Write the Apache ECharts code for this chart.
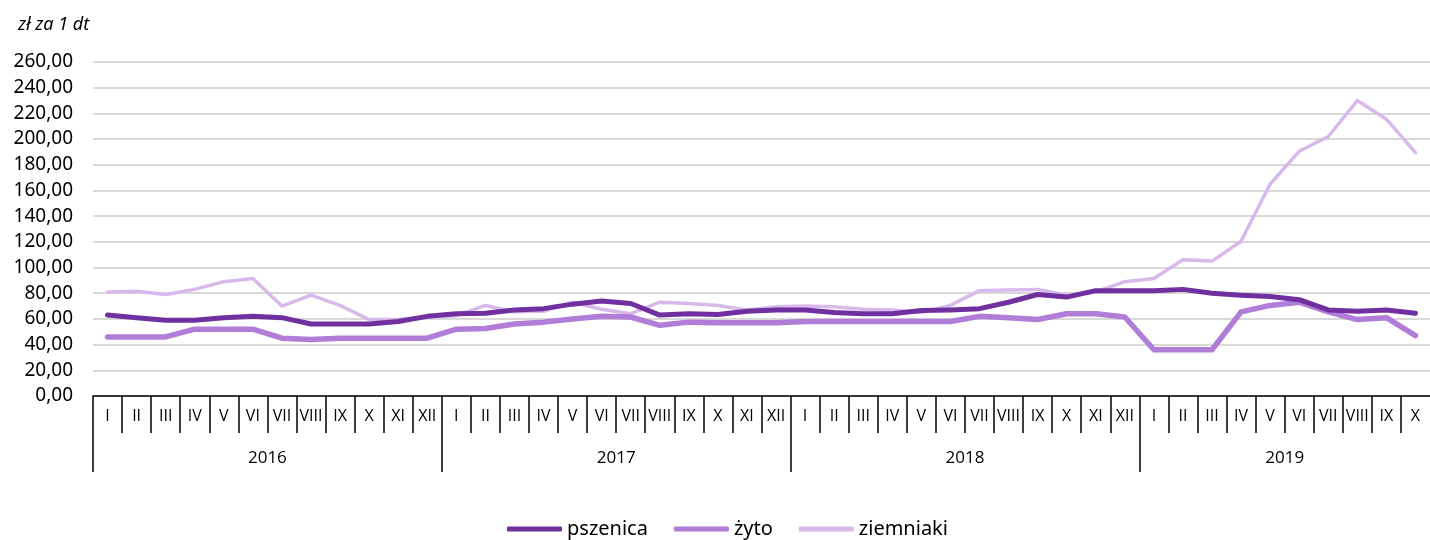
<!DOCTYPE html>
<html lang="pl">
<head>
<meta charset="utf-8">
<title>Ceny skupu</title>
<script src="https://cdn.jsdelivr.net/npm/echarts@6.0.0/dist/echarts.min.js"></script>
<style>
  html, body { margin: 0; padding: 0; background: #fff; }
  #main { width: 1430px; height: 540px; }
</style>
</head>
<body>
<div id="main"></div>
<script>
// miesiące i lata na osi X
var months = ['I', 'II', 'III', 'IV', 'V', 'VI', 'VII', 'VIII', 'IX', 'X', 'XI', 'XII'];
var years = ['2016', '2017', '2018', '2019'];
var yearMonths = [12, 12, 12, 10];
var yTicks = [0, 20, 40, 60, 80, 100, 120, 140, 160, 180, 200, 220, 240, 260];

// zł za 1 dt
var pszenica = [63, 61, 59, 59, 61, 62, 61, 56, 56, 56, 58, 62,
  64, 64.5, 67, 68, 71.5, 74, 72, 63, 64, 63.5, 66, 67,
  67, 65, 64, 64, 66.5, 67, 68, 73, 79, 77, 82, 82,
  82, 83, 80, 78.5, 77.5, 75, 67, 66, 67, 64.5];
var zyto = [46, 46, 46, 52, 52, 52, 45, 44, 45, 45, 45, 45,
  52, 52.5, 56, 57.5, 60, 62, 61.5, 55, 57.5, 57, 57, 57,
  58, 58, 58, 58, 58, 58, 62, 61, 59.5, 64, 64, 61.5,
  36, 36, 36, 65.5, 70.5, 73, 65.5, 59.5, 61, 47];
var ziemniaki = [81, 81.5, 79, 83, 89, 91.5, 70, 78.5, 70.5, 59.5, 59.5, 61.5,
  62.5, 70.5, 65.5, 66, 73, 67.5, 64, 73, 72, 70.5, 67, 69.5,
  70, 69.5, 67.5, 67, 65, 70.5, 82, 82.5, 83, 78.5, 81, 89,
  91.5, 106, 105, 120.5, 165, 190.5, 202, 230, 215.5, 189.5];

var categories = [];
var monthBounds = [];
var yearStarts = [];
var yearMids = [];
var pos = 0;
for (var y = 0; y < years.length; y++) {
  yearStarts.push(pos);
  yearMids.push(pos + yearMonths[y] / 2);
  for (var m = 0; m < yearMonths[y]; m++) {
    categories.push(months[m]);
    monthBounds.push(pos + m);
  }
  pos += yearMonths[y];
}

var font = 'Noto Sans';
var axisFont = 'Open Sans';
var chart = echarts.init(document.getElementById('main'));

chart.setOption({
  animation: false,
  textStyle: { fontFamily: font },
  title: {
    text: 'zł za 1 dt',
    left: 13,
    top: 11,
    textStyle: { fontFamily: font, fontSize: 18, fontStyle: 'italic', fontWeight: 'normal', color: '#000' }
  },
  grid: { left: 93, right: 0, top: 62, bottom: 144 },
  legend: {
    top: 514,
    left: 502,
    icon: 'roundRect',
    itemWidth: 55,
    itemHeight: 5,
    itemGap: 26,
    textStyle: { fontFamily: font, fontSize: 20, color: '#000' },
    data: ['pszenica', 'żyto', 'ziemniaki']
  },
  xAxis: [{
    type: 'category',
    position: 'bottom',
    data: categories,
    boundaryGap: true,
    axisLine: { lineStyle: { color: '#000', width: 1.5 } },
    axisTick: { show: false },
    axisLabel: { interval: 0, margin: 12, fontFamily: axisFont, fontSize: 16, color: '#000' }
  }, {
    type: 'value',
    position: 'bottom',
    min: 0,
    max: categories.length,
    axisLine: { show: false },
    splitLine: { show: false },
    axisTick: { show: true, length: 37, customValues: monthBounds, lineStyle: { color: '#000', width: 1.5 } },
    axisLabel: { show: false }
  }, {
    type: 'value',
    position: 'bottom',
    min: 0,
    max: categories.length,
    axisLine: { show: false },
    splitLine: { show: false },
    axisTick: { show: true, length: 76, customValues: yearStarts, lineStyle: { color: '#000', width: 1.5 } },
    axisLabel: {
      margin: 54,
      fontFamily: axisFont,
      fontSize: 17,
      color: '#000',
      customValues: yearMids,
      formatter: function (v) {
        return years[yearMids.indexOf(v)];
      }
    }
  }],
  yAxis: {
    type: 'value',
    min: yTicks[0],
    max: yTicks[yTicks.length - 1],
    interval: 20,
    axisLine: { show: false },
    axisTick: { show: false },
    splitLine: { lineStyle: { color: '#d9d9d9', width: 2 } },
    axisLabel: {
      margin: 20,
      fontFamily: font,
      fontSize: 19,
      color: '#000',
      formatter: function (v) {
        return v.toFixed(2).replace('.', ',');
      }
    }
  },
  series: [{
    name: 'pszenica',
    type: 'line',
    data: pszenica,
    symbol: 'none',
    color: '#7030a0',
    lineStyle: { width: 5, color: '#7030a0', cap: 'round', join: 'round' },
    z: 4
  }, {
    name: 'żyto',
    type: 'line',
    data: zyto,
    symbol: 'none',
    color: '#b07ed8',
    lineStyle: { width: 5.5, color: '#b07ed8', cap: 'round', join: 'round' },
    z: 3
  }, {
    name: 'ziemniaki',
    type: 'line',
    data: ziemniaki,
    symbol: 'none',
    color: '#d7b9eb',
    lineStyle: { width: 3.5, color: '#d7b9eb', cap: 'round', join: 'round' },
    z: 2
  }]
});
</script>
</body>
</html>
